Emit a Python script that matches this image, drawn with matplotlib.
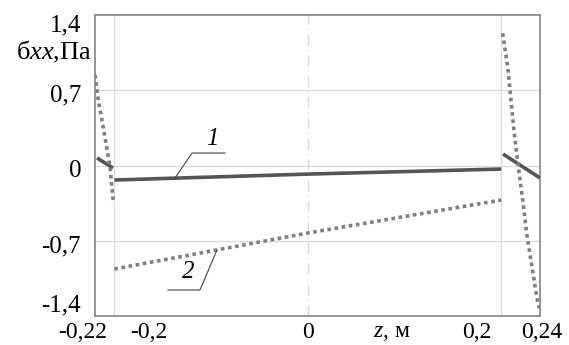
import matplotlib
matplotlib.use("Agg")
import matplotlib.pyplot as plt
import matplotlib.transforms as mtransforms

plt.rcParams['font.family'] = ['Liberation Serif', 'DejaVu Serif']
plt.rcParams['mathtext.fontset'] = 'custom'
plt.rcParams['mathtext.rm'] = 'Liberation Serif'
plt.rcParams['mathtext.it'] = 'Liberation Serif:italic'

# ---- data ----
# curve 1 (solid)
z1_left = [-0.2179, -0.2014]
s1_left = [0.070, -0.023]
z1_main = [-0.2, 0.0, 0.2]
s1_main = [-0.135, -0.080, -0.033]
z1_right = [0.2018, 0.24]
s1_right = [0.107, -0.116]

# curve 2 (dotted)
z2_left = [-0.22, -0.2166, -0.2104, -0.2045, -0.2011]
s2_left = [0.842, 0.609, 0.300, -0.011, -0.337]
z2_main = [-0.2, 0.0, 0.2]
s2_main = [-0.963, -0.628, -0.321]
z2_right = [0.2014, 0.2066, 0.2100, 0.2134, 0.2176, 0.2221, 0.2262, 0.2317, 0.2372, 0.2393]
s2_right = [1.230, 0.919, 0.609, 0.300, -0.011, -0.321, -0.631, -0.941, -1.251, -1.328]

x_ticks = [-0.22, -0.2, 0, 0.2, 0.24]
x_ticklabels = ['-0,22', '-0,2', '0', '0,2', '0,24']
y_ticks = [-1.4, -0.7, 0, 0.7, 1.4]
y_ticklabels = ['-1,4', '-0,7', '0', '0,7', '1,4']

W, H = 569, 345
fig = plt.figure(figsize=(W / 100, H / 100), dpi=100)
ax = fig.add_axes([95 / W, (H - 316) / H, (540 - 95) / W, (316 - 15) / H])
ax.set_xlim(-0.22, 0.24)
ax.set_ylim(-1.4, 1.4)

grid_c = '#dcdcdc'
for yv in [-0.7, 0, 0.7]:
    ax.axhline(yv, color=grid_c, lw=1.0, zorder=1)
for xv in [-0.2, 0.2]:
    ax.axvline(xv, color=grid_c, lw=1.0, zorder=1)
ax.axvline(0, color=grid_c, lw=1.0, ls=(0, (8, 3, 1, 3)), zorder=1)

solid_c = '#555555'
dot_c = '#7f7f7f'
for zz, ss in [(z1_left, s1_left), (z1_main, s1_main), (z1_right, s1_right)]:
    ax.plot(zz, ss, color=solid_c, lw=2.6, solid_capstyle='butt', zorder=3)
for zz, ss in [(z2_left, s2_left), (z2_main, s2_main), (z2_right, s2_right)]:
    ax.plot(zz, ss, color=dot_c, lw=2.6, ls=(0, (1, 1)), dash_capstyle='butt', zorder=3)

# leaders and labels
lead_c = '#444444'
ax.plot([-0.1373, -0.1197, -0.0856], [-0.116, 0.116, 0.116], color=lead_c, lw=0.8, zorder=4)
ax.text(-0.099, 0.25, '1', fontsize=18, style='italic', ha='center', va='center')
ax.plot([-0.0939, -0.1115, -0.1445], [-0.786, -1.158, -1.158], color=lead_c, lw=0.8, zorder=4)
ax.text(-0.1239, -0.99, '2', fontsize=18, style='italic', ha='center', va='center')

for sp in ax.spines.values():
    sp.set_color('#8c8c8c')
    sp.set_linewidth(1.3)

ax.set_xticks(x_ticks)
ax.set_xticklabels(x_ticklabels)
ax.set_yticks(y_ticks)
ax.set_yticklabels(y_ticklabels)
ax.tick_params(length=0, labelsize=18)
ax.tick_params(axis='x', pad=4, labelsize=17)
ax.tick_params(axis='y', pad=10)

def shift(lab, dx, dy):
    lab.set_transform(lab.get_transform() + mtransforms.ScaledTranslation(dx / 100, dy / 100, fig.dpi_scale_trans))

for lab, dx in zip(ax.get_xticklabels(), [-12, 34, 0, -24, 2]):
    shift(lab, dx, 0)
for lab, dy in zip(ax.get_yticklabels(), [13, -3, -3, -3, -8]):
    shift(lab, 0, dy)

trans = mtransforms.blended_transform_factory(ax.transData, ax.transAxes)
ax.text(0.087, -0.02, '$z$, м', transform=trans, fontsize=17, ha='center', va='top')
ax.text(-0.008, 0.877, 'б$xx$,Па', transform=ax.transAxes, fontsize=19, ha='right', va='center')

fig.savefig('out.png', dpi=100)
